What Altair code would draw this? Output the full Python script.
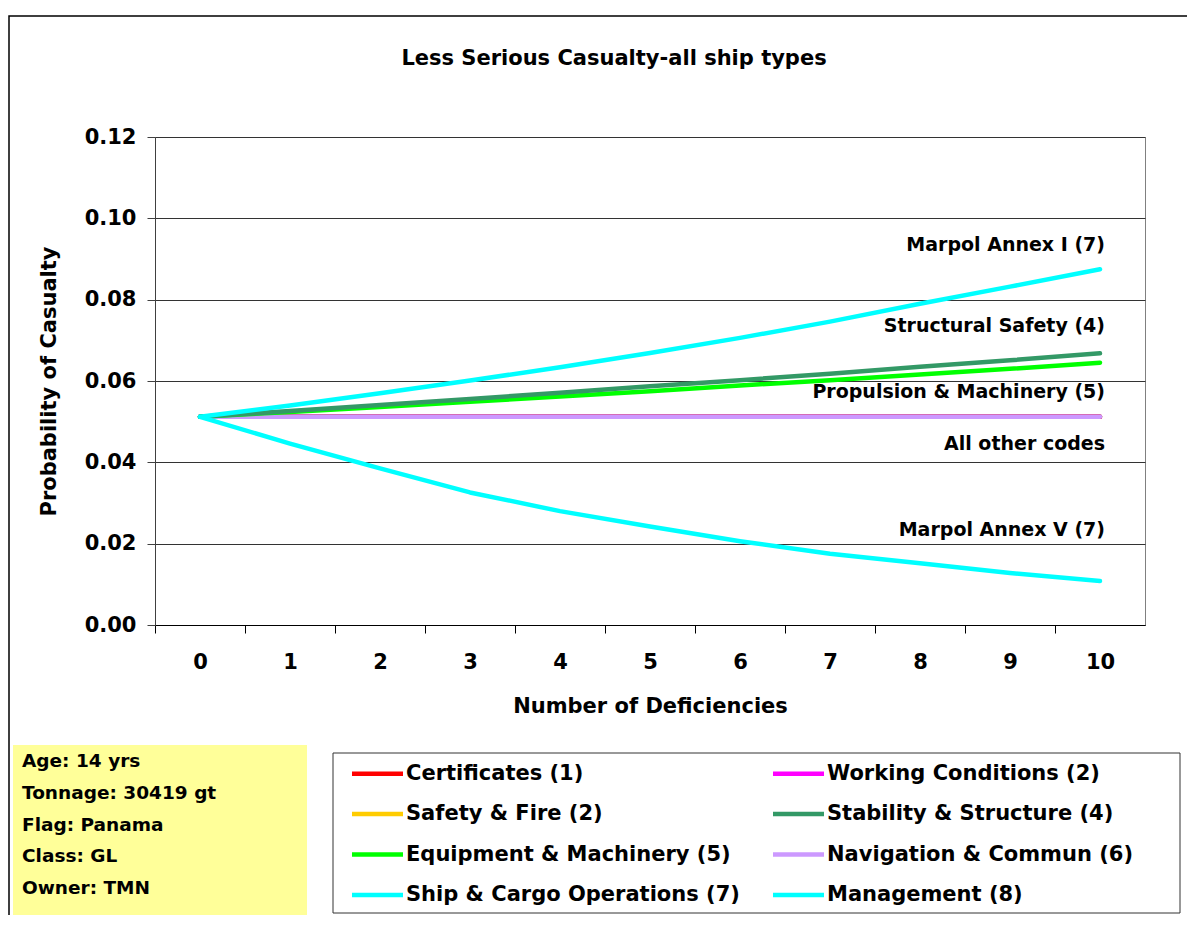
import altair as alt
import pandas as pd

# ---------------- data ----------------
categories = [0, 1, 2, 3, 4, 5, 6, 7, 8, 9, 10]

marpol_annex_i = [0.0512, 0.0540, 0.0570, 0.0601, 0.0634, 0.0669, 0.0706, 0.0746, 0.0790, 0.0832, 0.0875]
structural_safety = [0.0512, 0.0526, 0.0541, 0.0556, 0.0571, 0.0587, 0.0602, 0.0618, 0.0635, 0.0651, 0.0668]
propulsion_machinery = [0.0512, 0.0524, 0.0536, 0.0549, 0.0562, 0.0575, 0.0589, 0.0602, 0.0616, 0.0630, 0.0645]
all_other_codes = [0.0512, 0.0512, 0.0512, 0.0512, 0.0512, 0.0512, 0.0512, 0.0512, 0.0512, 0.0512, 0.0512]
marpol_annex_v = [0.0512, 0.0446, 0.0385, 0.0326, 0.0280, 0.0242, 0.0206, 0.0175, 0.0152, 0.0128, 0.0108]

legend_names = [
    "Certificates (1)", "Working Conditions (2)",
    "Safety & Fire (2)", "Stability & Structure (4)",
    "Equipment & Machinery (5)", "Navigation & Commun (6)",
    "Ship & Cargo Operations (7)", "Management (8)",
]
legend_colors = ["#FF0000", "#FF00FF", "#FFCC00", "#339966",
                 "#00FF00", "#CC99FF", "#00FFFF", "#00FFFF"]

# lines in drawing order: (line id, legend group, values)
line_ids = ["Safety & Fire", "Management", "Working Conditions", "Certificates",
            "All other codes", "Propulsion & Machinery", "Structural Safety",
            "Marpol Annex V", "Marpol Annex I"]
line_groups = ["Safety & Fire (2)", "Management (8)", "Working Conditions (2)", "Certificates (1)",
               "Navigation & Commun (6)", "Equipment & Machinery (5)", "Stability & Structure (4)",
               "Ship & Cargo Operations (7)", "Ship & Cargo Operations (7)"]
line_values = [all_other_codes, all_other_codes, all_other_codes, all_other_codes,
               all_other_codes, propulsion_machinery, structural_safety,
               marpol_annex_v, marpol_annex_i]

annotation_labels = ["Marpol Annex I (7)", "Structural Safety (4)",
                     "Propulsion & Machinery (5)", "All other codes", "Marpol Annex V (7)"]
annotation_y = [0.0934, 0.0735, 0.0572, 0.0445, 0.0233]

info_lines = ["Age: 14 yrs", "Tonnage: 30419 gt", "Flag: Panama", "Class: GL", "Owner: TMN"]
y_ticks = [0.0, 0.02, 0.04, 0.06, 0.08, 0.10, 0.12]

title_text = "Less Serious Casualty-all ship types"
x_title = "Number of Deficiencies"
y_title = "Probability of Casualty"

# ---------------- tables ----------------
rows = []
for k, (lid, grp, vals) in enumerate(zip(line_ids, line_groups, line_values)):
    for c, v in zip(categories, vals):
        rows.append({"line": lid, "group": grp, "k": k, "x": c, "y": v})
df = pd.DataFrame(rows)
ann_df = pd.DataFrame({"label": annotation_labels, "y": annotation_y,
                       "x": [categories[-1]] * len(annotation_labels)})

FONT = "DejaVu Sans"
W, H = 990, 488

x_enc = alt.X("x:O", scale=alt.Scale(type="point", padding=0.5, domain=categories),
              axis=alt.Axis(title=x_title, labelAngle=0, tickSize=8, tickOffset=-45, labelOffset=45,
                            labelPadding=18, titlePadding=23, grid=False,
                            domainColor="#000000", tickColor="#000000"))
y_enc = alt.Y("y:Q", scale=alt.Scale(domain=[0, 0.12], nice=False, zero=True),
              axis=alt.Axis(title=y_title, values=y_ticks, format=".2f", tickSize=8,
                            labelPadding=11, titlePadding=25, grid=True,
                            gridColor="#333333", domainColor="#404040", tickColor="#404040"))
color_enc = alt.Color("group:N", scale=alt.Scale(domain=legend_names, range=legend_colors),
                      legend=alt.Legend(orient="none", legendX=203, legendY=617, columns=2,
                                        direction="horizontal",
                                        title=None, symbolType="M-1.5,0L1.5,0", symbolSize=1156,
                                        symbolStrokeWidth=4.5, labelFont=FONT, labelFontSize=21,
                                        labelFontWeight="bold", labelColor="#000000",
                                        labelOffset=9, rowPadding=10.5, columnPadding=24,
                                        padding=0, labelLimit=0))

one = alt.Data(values=[{"a": 1}])

frame = alt.Chart(one).mark_rect(fill="white", fillOpacity=0, stroke="#000000", strokeWidth=1.5).encode(
    x=alt.value(-146), x2=alt.value(1400), y=alt.value(-121), y2=alt.value(1200))
info_box = alt.Chart(one).mark_rect(fill="#FFFF99").encode(
    x=alt.value(-142), x2=alt.value(152), y=alt.value(608), y2=alt.value(778))
legend_box = alt.Chart(one).mark_rect(fill="white", stroke="#333333", strokeWidth=1).encode(
    x=alt.value(178), x2=alt.value(1025), y=alt.value(616), y2=alt.value(776))
info_text = alt.Chart(one).mark_text(text=info_lines, align="left", baseline="top", lineHeight=31.8,
                                     font=FONT, fontSize=18.5, fontWeight="bold", color="#000000").encode(
    x=alt.value(-133), y=alt.value(615))
title = alt.Chart(one).mark_text(text=title_text, align="center", baseline="middle",
                                 font=FONT, fontSize=21, fontWeight="bold", color="#000000").encode(
    x=alt.value(459), y=alt.value(-78))

lines = alt.Chart(df).mark_line(strokeWidth=4.5, strokeCap="round", strokeJoin="round").encode(
    x=x_enc, y=y_enc, color=color_enc, detail="line:N", order="x:Q")

annotations = alt.Chart(ann_df).mark_text(align="right", baseline="middle", dx=5, font=FONT,
                                          fontSize=19, fontWeight="bold", color="#000000").encode(
    x=alt.X("x:O"), y=alt.Y("y:Q"), text="label:N")

chart = alt.layer(frame, info_box, legend_box, info_text, title, lines, annotations).properties(
    width=W, height=H,
    background="white",
    autosize=alt.AutoSizeParams(type="none"),
    padding={"left": 147, "top": 129, "right": 42, "bottom": 290},
).configure_view(stroke="#808080", strokeWidth=1).configure_axis(
    labelFont=FONT, labelFontSize=21, labelFontWeight="bold", labelColor="#000000",
    titleFont=FONT, titleFontSize=21, titleFontWeight="bold", titleColor="#000000",
    domainWidth=1, tickWidth=1, gridWidth=1,
)

chart.save("out.html", embed_options={"renderer": "svg", "actions": False})
